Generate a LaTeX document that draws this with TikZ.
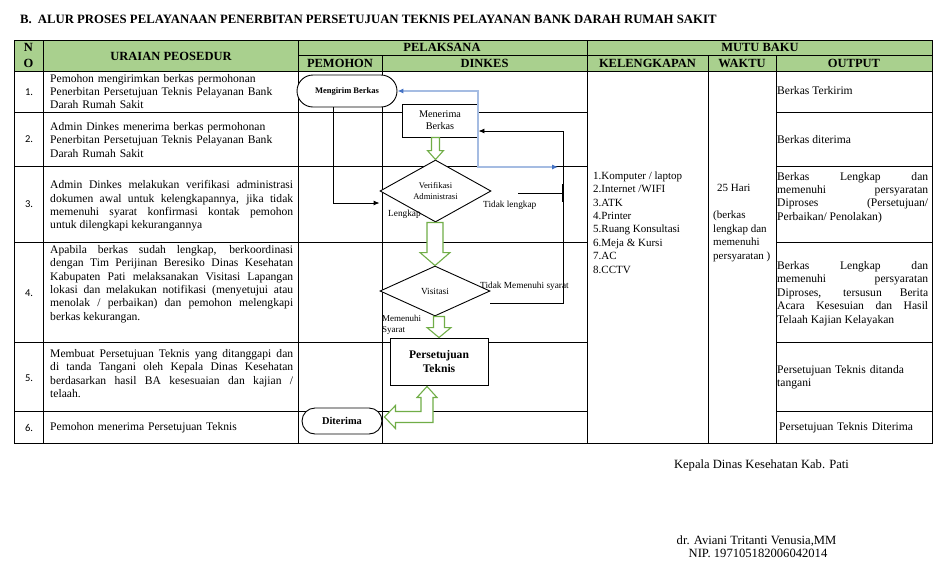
\documentclass[tikz,border=0pt]{standalone}
\usepackage{fontspec}
\setmainfont{Liberation Serif}
\newfontfamily\numfont{Carlito}
\usetikzlibrary{shapes.geometric,calc,arrows.meta}
\definecolor{hdrgreen}{RGB}{169,208,142}
\definecolor{arrgreen}{RGB}{112,173,71}
\definecolor{lblue}{RGB}{165,188,226}
\definecolor{dblue}{RGB}{68,114,196}
\newcommand\gdownarrow[5]{%
  \draw[garrow] let \p1=(#1), \p2=(#2) in
    (\x2-#3,\y1) -- (\x2-#3,\y2+#5) -- (\x2-#4,\y2+#5) -- (\x2,\y2)
    -- (\x2+#4,\y2+#5) -- (\x2+#3,\y2+#5) -- (\x2+#3,\y1) -- cycle;}
\begin{document}
\begin{tikzpicture}[x=1pt,y=-1pt,
  tbl/.style={line width=0.9pt,black},
  hdr/.style={font=\bfseries\fontsize{12.5}{13}\selectfont,inner sep=0pt},
  body/.style={font=\fontsize{11.6}{13.4}\selectfont,inner sep=0pt},
  jbody/.style={body,text width=243pt,align=justify,anchor=west},
  lbody/.style={body,text width=245pt,align=left,anchor=west},
  obody/.style={body,text width=151pt,align=justify,anchor=west},
  num/.style={font=\numfont\fontsize{10.5}{12}\selectfont,inner sep=0pt},
  list/.style={font=\fontsize{11}{13.4}\selectfont,inner sep=0pt,align=left,anchor=north west},
  fbox/.style={draw,fill=white,line width=0.9pt,align=center,inner sep=1pt},
  term/.style={fbox,rounded corners=13pt},
  dia/.style={draw,fill=white,line width=0.9pt,diamond,aspect=2,inner sep=0pt,align=center},
  lbl/.style={font=\fontsize{9.3}{10.5}\selectfont,inner sep=0pt,align=left},
  conn/.style={line width=0.9pt,-{Latex[length=6pt,width=5pt]}},
  garrow/.style={draw=arrgreen,line width=1.1pt,fill=white,line join=miter},
  sig/.style={font=\fontsize{12.6}{14}\selectfont,inner sep=0pt}
]
\useasboundingbox (0,0) rectangle (951,571);

% title
\node[font=\bfseries\fontsize{12.75}{14}\selectfont,inner sep=0pt,anchor=west] (title) at (20,19)
  {B.\hspace{6pt}ALUR PROSES PELAYANAAN PENERBITAN PERSETUJUAN TEKNIS PELAYANAN BANK DARAH RUMAH SAKIT};

% header fill
\fill[hdrgreen] (14,40) rectangle (932,71);

% table lines
\draw[tbl] (14,40) rectangle (932,443);
\draw[tbl] (298,55) -- (932,55);
\draw[tbl] (14,71) -- (932,71);
\foreach \xx in {43,298,587} {\draw[tbl] (\xx,40) -- (\xx,443);}
\foreach \xx in {382,708,776} {\draw[tbl] (\xx,55) -- (\xx,443);}
\foreach \yy in {112,166,242,342,411} {
  \draw[tbl] (14,\yy) -- (587,\yy);
  \draw[tbl] (776,\yy) -- (932,\yy);
}

% header texts
\node[hdr] (hN) at (28.5,47) {N};
\node[hdr] (hO) at (28.5,63) {O};
\node[hdr] (hur) at (171,56) {URAIAN PEOSEDUR};
\node[hdr] (hpel) at (442,47.5) {PELAKSANA};
\node[hdr] (hmutu) at (760,47.5) {MUTU BAKU};
\node[hdr] (hpem) at (340,63.5) {PEMOHON};
\node[hdr] (hdin) at (484.5,63.5) {DINKES};
\node[hdr] (hkel) at (647.5,63.5) {KELENGKAPAN};
\node[hdr] (hwak) at (742,63.5) {WAKTU};
\node[hdr] (hout) at (854,63.5) {OUTPUT};

% numbers
\node[num] (n1) at (29,92) {1.};
\node[num] (n2) at (29,139) {2.};
\node[num] (n3) at (29,204) {3.};
\node[num] (n4) at (29,293) {4.};
\node[num] (n5) at (29,378) {5.};
\node[num] (n6) at (29,428) {6.};

% uraian
\node[lbody] (u1) at (50,91.5) {Pemohon mengirimkan berkas permohonan\\Penerbitan Persetujuan Teknis Pelayanan Bank\\Darah Rumah Sakit};
\node[lbody] (u2) at (50,140) {Admin Dinkes menerima berkas permohonan\\Penerbitan Persetujuan Teknis Pelayanan Bank\\Darah Rumah Sakit};
\node[jbody] (u3) at (50,206) {Admin Dinkes melakukan verifikasi administrasi\linebreak dokumen awal untuk kelengkapannya, jika tidak\linebreak memenuhi syarat konfirmasi kontak pemohon\linebreak untuk dilengkapi kekurangannya};
\node[jbody] (u4) at (50,284) {Apabila berkas sudah lengkap, berkoordinasi\linebreak dengan Tim Perijinan Beresiko Dinas Kesehatan\linebreak Kabupaten Pati melaksanakan Visitasi Lapangan\linebreak lokasi dan melakukan notifikasi (menyetujui atau\linebreak menolak / perbaikan) dan pemohon melengkapi\linebreak berkas kekurangan.};
\node[jbody] (u5) at (50,373.5) {Membuat Persetujuan Teknis yang ditanggapi dan\linebreak di tanda Tangani oleh Kepala Dinas Kesehatan\linebreak berdasarkan hasil BA kesesuaian dan kajian /\linebreak telaah.};
\node[lbody] (u6) at (50,427.5) {Pemohon menerima Persetujuan Teknis};

% kelengkapan
\node[list] (kel) at (593,171.5) {1.Komputer / laptop\\2.Internet /WIFI\\3.ATK\\4.Printer\\5.Ruang Konsultasi\\6.Meja \& Kursi\\7.AC\\8.CCTV};
% waktu
\node[list] (wak1) at (717,184) {25 Hari};
\node[list] (wak2) at (713,211) {(berkas\\lengkap dan\\memenuhi\\persyaratan )};

% output
\node[obody] (o1) at (777,91) {Berkas Terkirim};
\node[obody] (o2) at (777,139.5) {Berkas diterima};
\node[obody] (o3) at (777,197.5) {Berkas Lengkap dan\linebreak memenuhi persyaratan\linebreak Diproses (Persetujuan/\linebreak Perbaikan/ Penolakan)};
\node[obody] (o4) at (777,293.5) {Berkas Lengkap dan\linebreak memenuhi persyaratan\linebreak Diproses, tersusun Berita\linebreak Acara Kesesuian dan Hasil\linebreak Telaah Kajian Kelayakan};
\node[obody,align=left] (o5) at (777,377) {Persetujuan Teknis ditanda\\tangani};
\node[obody,align=left] (o6) at (779,428) {Persetujuan Teknis Diterima};

% flowchart nodes
\node[term,minimum width=100pt,minimum height=32pt,rounded corners=16pt,font=\bfseries\fontsize{8.5}{10}\selectfont] (kirim) at (347,91) {Mengirim Berkas};
\node[fbox,minimum width=76pt,minimum height=33pt,font=\fontsize{10.2}{12}\selectfont] (terima) at (440,120.5) {Menerima\\Berkas};
\node[dia,minimum width=111pt,minimum height=62pt,font=\fontsize{8.6}{10.5}\selectfont] (verif) at (435.5,191) {Verifikasi\\Administrasi};
\node[dia,minimum width=110pt,minimum height=50pt,font=\fontsize{9.3}{11}\selectfont] (visit) at (435,291) {Visitasi};
\node[fbox,minimum width=98pt,minimum height=47pt,font=\bfseries\fontsize{11.6}{14}\selectfont] (setuju) at (439,361.5) {Persetujuan\\Teknis};
\node[term,minimum width=80pt,minimum height=26pt,font=\bfseries\fontsize{10.4}{12}\selectfont] (diterima) at (342,421) {Diterima};

% labels
\node[lbl,anchor=west] (llengkap) at (388,214) {Lengkap};
\node[lbl,anchor=west] (ltidak) at (483,205) {Tidak lengkap};
\node[lbl,anchor=west] (ltms) at (480,286) {Tidak Memenuhi syarat};
\node[lbl,anchor=north west,font=\fontsize{9}{11}\selectfont] (lmem) at (382,315) {Memenuhi\\Syarat};

% connectors
\draw[conn] ([xshift=-14pt]kirim.south) |- ([yshift=-12pt]verif.west);
\coordinate (bluebend) at (478,167);
\coordinate (blueend) at (558,167);
\draw[draw=lblue,line width=1.1pt,{Latex[length=6pt,width=5pt,color=dblue]}-{Latex[length=6pt,width=5pt,color=dblue]}]
  (kirim.east) -| (bluebend) -- (blueend);
\draw[conn] ([yshift=-12pt]visit.east) -- ++(72.5,0) |- ([yshift=-10.5pt]terima.east);
\coordinate (junc) at (563,193);
\draw[line width=0.9pt] ([xshift=27pt,yshift=-2pt]verif.east) -- (junc);
\draw[line width=1.4pt] (562.5,184) -- (562.5,202);

% green block arrows
\gdownarrow{terima.south}{verif.north}{4pt}{8pt}{9pt}
\gdownarrow{verif.south}{visit.north}{8pt}{15pt}{13pt}
\gdownarrow{visit.south}{setuju.north}{5.5pt}{12pt}{10pt}
\coordinate (ut) at ([xshift=-12pt,yshift=-1pt]setuju.south);
\coordinate (lt) at ([xshift=2pt,yshift=4pt]diterima.east);
\draw[garrow] let \p1=(ut), \p2=(lt) in
  (\x1,\y1) -- (\x1+10pt,\y1-11pt) -- (\x1+6pt,\y1-11pt) -- (\x1+6pt,\y2-5.5pt)
  -- (\x2+11pt,\y2-5.5pt) -- (\x2+11pt,\y2-11.5pt) -- (\x2,\y2)
  -- (\x2+11pt,\y2+11.5pt) -- (\x2+11pt,\y2+5.5pt) -- (\x1-6pt,\y2+5.5pt)
  -- (\x1-6pt,\y1-11pt) -- (\x1-10pt,\y1-11pt) -- cycle;

% signature
\node[sig] (sig1) at (761.5,465) {Kepala Dinas Kesehatan Kab. Pati};
\node[sig] (sig2) at (756.5,541) {dr. Aviani Tritanti Venusia,MM};
\node[sig] (sig3) at (758,553.5) {NIP. 197105182006042014};
\end{tikzpicture}
\end{document}
